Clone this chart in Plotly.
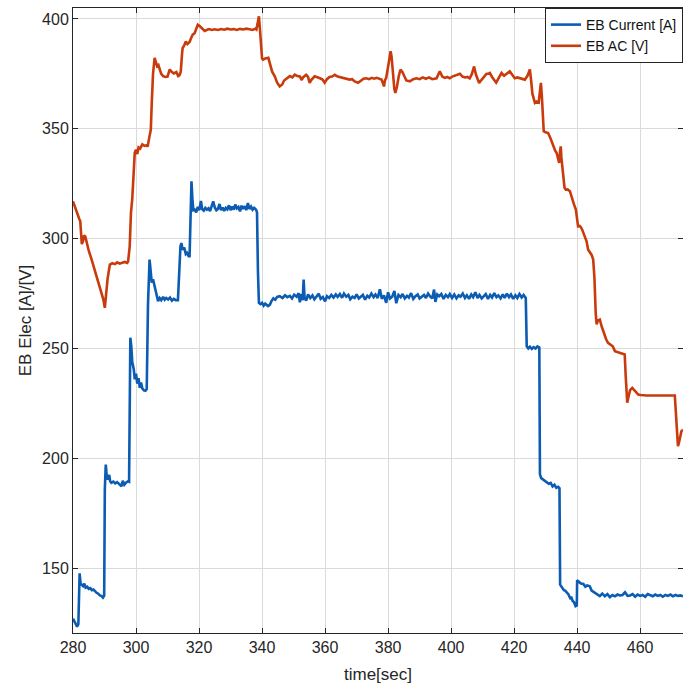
import plotly.graph_objects as go

# EB current [A]: time stamps (s) and measured values
t_cur = [
    280.0, 280.6, 281.3, 281.7, 281.9, 282.1, 282.4, 282.8, 283.2, 283.6, 284.0, 284.5, 285.0, 285.5,
    286.0, 286.5, 287.0, 287.5, 288.0, 288.5, 289.0, 289.5, 289.9, 290.1, 290.4, 290.7, 291.1, 291.5,
    291.8, 292.2, 292.8, 293.4, 294.0, 294.6, 295.2, 295.4, 295.8, 296.3, 296.9, 297.5, 297.8, 298.0,
    298.2, 298.5, 298.8, 299.3, 299.6, 300.0, 300.4, 300.8, 301.2, 301.6, 302.0, 302.5, 303.0, 303.4,
    303.8, 304.3, 304.6, 305.0, 305.4, 305.9, 306.3, 306.7, 307.0, 307.5, 308.0, 308.6, 309.1, 309.6,
    310.2, 310.8, 311.4, 312.0, 312.6, 313.3, 313.7, 314.1, 314.4, 314.8, 315.3, 315.8, 316.2, 316.7,
    317.0, 317.3, 317.6, 317.9, 318.2, 318.6, 319.1, 319.6, 320.1, 320.6, 321.0, 321.5, 322.0, 322.5,
    323.0, 323.5, 324.0, 324.5, 325.0, 325.5, 326.0, 326.5, 327.0, 327.5, 328.0, 328.5, 329.0, 329.5,
    330.0, 330.5, 331.0, 331.5, 332.0, 332.5, 333.0, 333.5, 334.0, 334.5, 335.0, 335.5, 336.0, 336.5,
    337.0, 337.5, 338.1, 338.4, 338.7, 339.0, 339.5, 340.0, 340.5, 341.0, 341.9, 342.5, 343.0, 343.6,
    344.2, 344.8, 345.6, 346.5, 347.3, 348.0, 348.8, 349.5, 350.2, 351.0, 351.6, 352.0, 352.5, 352.9,
    353.2, 353.5, 354.0, 354.6, 355.3, 356.0, 356.6, 357.3, 358.0, 358.6, 359.3, 360.0, 360.6, 361.3,
    362.0, 362.7, 363.4, 364.0, 364.7, 365.4, 366.0, 366.7, 367.4, 368.0, 368.7, 369.4, 370.0, 370.7,
    371.4, 372.0, 372.7, 373.4, 374.0, 374.7, 375.4, 376.0, 376.7, 377.4, 378.0, 378.7, 379.4, 380.0,
    380.6, 381.3, 382.0, 382.6, 383.3, 384.0, 384.6, 385.3, 386.0, 386.6, 387.3, 388.0, 388.7, 389.4,
    390.0, 390.7, 391.4, 392.0, 392.7, 393.4, 394.0, 394.6, 395.0, 395.6, 396.2, 396.9, 397.6, 398.3,
    399.0, 399.6, 400.3, 401.0, 401.7, 402.4, 403.0, 403.7, 404.4, 405.0, 405.7, 406.4, 407.0, 407.7,
    408.4, 409.0, 409.7, 410.4, 411.0, 411.7, 412.4, 413.0, 413.7, 414.4, 415.0, 415.7, 416.4, 417.0,
    417.7, 418.4, 419.0, 419.7, 420.4, 421.0, 421.7, 422.4, 423.0, 423.7, 424.0, 424.5, 425.0, 425.6,
    426.2, 426.8, 427.4, 428.0, 428.2, 428.6, 429.2, 429.8, 430.4, 431.0, 431.6, 432.2, 432.8, 433.4,
    434.0, 434.4, 434.6, 435.2, 435.8, 436.2, 436.7, 437.2, 437.8, 438.2, 438.6, 439.0, 439.5, 439.9,
    440.0, 440.5, 441.2, 442.0, 442.6, 443.2, 444.0, 444.6, 445.4, 446.2, 447.2, 448.0, 448.8, 449.6,
    450.4, 451.2, 452.0, 452.8, 453.6, 454.4, 455.2, 456.0, 456.8, 457.6, 458.4, 459.2, 460.0, 460.8,
    461.6, 462.4, 463.2, 464.0, 464.8, 465.6, 466.4, 467.2, 468.0, 468.8, 469.6, 470.4, 471.2, 472.0,
    472.8, 473.6,
]
i_cur = [
    127.0, 125.5, 123.4, 124.5, 146.0, 147.7, 143.0, 142.5, 141.9, 143.0, 141.2, 141.6, 140.6, 140.9,
    140.0, 140.3, 139.4, 138.8, 138.4, 137.6, 137.4, 136.6, 137.5, 185.9, 197.2, 192.0, 190.4, 192.5,
    189.5, 188.9, 189.4, 188.6, 189.2, 188.4, 188.0, 187.3, 189.8, 188.0, 189.0, 189.6, 189.4, 253.0,
    254.9, 251.0, 244.0, 240.5, 236.0, 238.5, 234.0, 236.5, 232.1, 234.5, 231.8, 231.0, 230.8, 231.5,
    270.0, 290.5, 286.0, 280.0, 281.5, 278.4, 276.0, 272.5, 271.5, 273.0, 272.0, 273.5, 272.2, 273.0,
    272.3, 273.2, 271.8, 272.6, 272.0, 272.0, 285.0, 296.5, 298.0, 295.0, 296.0, 293.0, 293.5, 292.0,
    292.0, 312.0, 326.1, 318.0, 313.0, 313.2, 312.0, 314.5, 313.0, 317.2, 313.5, 312.8, 314.0, 313.2,
    313.8, 312.5, 314.5, 317.0, 314.2, 312.9, 313.5, 315.8, 313.0, 314.2, 312.6, 314.0, 313.4, 315.2,
    313.0, 314.6, 313.2, 315.5, 313.8, 314.4, 312.4, 315.0, 313.6, 314.8, 313.0, 316.2, 313.5, 314.6,
    313.2, 314.0, 313.2, 312.0, 285.0, 270.8, 270.2, 270.8, 269.5, 270.4, 269.3, 270.0, 271.6, 272.8,
    272.2, 273.5, 273.8, 273.0, 274.2, 273.4, 274.0, 272.8, 274.5, 273.6, 275.2, 271.0, 274.8, 272.0,
    281.4, 273.0, 271.8, 274.6, 273.0, 274.2, 272.4, 273.8, 275.0, 272.6, 273.4, 271.5, 273.8, 273.0,
    274.4, 273.2, 274.6, 273.5, 274.8, 273.1, 275.0, 273.6, 274.4, 272.4, 273.6, 273.0, 274.6, 272.8,
    273.8, 274.4, 272.2, 274.0, 273.2, 275.0, 273.4, 274.6, 273.0, 277.0, 272.6, 274.2, 270.8, 275.6,
    272.8, 273.6, 276.2, 270.6, 274.4, 273.4, 274.8, 272.8, 274.0, 273.2, 275.2, 272.6, 273.8, 274.6,
    272.8, 273.6, 274.4, 273.0, 275.0, 273.6, 272.8, 276.8, 271.2, 274.6, 273.8, 274.8, 272.6, 274.4,
    273.4, 274.8, 273.0, 274.6, 272.8, 274.2, 273.6, 275.0, 273.0, 274.2, 272.6, 274.6, 273.4, 275.6,
    273.0, 274.4, 272.8, 273.8, 274.8, 272.6, 274.4, 273.2, 275.2, 273.4, 274.2, 272.8, 274.6, 273.0,
    275.0, 273.4, 274.6, 272.6, 274.2, 273.0, 274.8, 273.2, 274.4, 273.0, 251.0, 250.0, 250.8, 249.8,
    250.6, 250.0, 251.0, 250.5, 192.7, 191.0, 190.4, 189.6, 189.0, 188.4, 188.8, 187.2, 188.0, 186.6,
    187.0, 186.4, 142.5, 141.0, 140.0, 139.8, 139.0, 138.2, 136.4, 136.6, 135.0, 134.6, 132.7, 133.0,
    144.5, 144.0, 143.0, 142.8, 141.6, 142.2, 141.8, 139.8, 139.0, 138.0, 137.3, 138.4, 137.2, 138.2,
    136.8, 137.8, 137.2, 138.0, 137.6, 137.8, 139.0, 137.4, 137.6, 138.2, 137.0, 138.0, 137.4, 137.8,
    137.0, 138.2, 137.6, 137.2, 138.0, 137.4, 137.8, 137.0, 137.8, 137.4, 138.0, 137.2, 137.8, 137.4,
    137.6, 137.2,
]

# EB AC voltage [V]: time stamps (s) and measured values
t_ac = [
    280.0, 280.7, 281.3, 282.0, 282.3, 282.5, 282.8, 283.2, 283.5, 283.9, 284.3, 285.0, 285.8, 286.6,
    287.4, 288.2, 289.0, 289.6, 290.1, 290.5, 291.0, 291.7, 292.5, 293.3, 294.0, 294.8, 295.6, 296.4,
    297.2, 297.5, 298.0, 298.4, 298.8, 299.2, 299.6, 300.0, 300.4, 300.8, 301.3, 302.0, 302.7, 303.3,
    303.7, 304.2, 304.7, 305.0, 305.4, 305.9, 306.3, 306.7, 307.1, 307.5, 308.0, 308.6, 309.3, 310.0,
    310.7, 311.3, 312.0, 312.8, 313.4, 313.8, 314.2, 314.6, 314.8, 315.3, 315.8, 316.3, 317.0, 317.4,
    318.0, 318.6, 319.2, 319.6, 320.2, 321.0, 321.8, 322.4, 323.2, 324.0, 325.0, 326.0, 327.0, 328.0,
    329.0, 330.0, 331.0, 332.0, 333.0, 334.0, 335.0, 336.0, 337.0, 337.8, 338.2, 338.6, 339.0, 339.3,
    339.6, 340.0, 340.3, 341.0, 342.0, 342.6, 343.2, 344.0, 344.8, 345.6, 346.4, 347.0, 348.0, 348.8,
    349.6, 350.4, 351.2, 352.0, 352.6, 353.0, 354.0, 354.6, 355.1, 355.6, 356.7, 357.6, 358.4, 359.2,
    359.9, 360.6, 361.4, 362.2, 363.1, 364.0, 365.0, 366.0, 367.0, 367.8, 368.6, 369.4, 370.5, 371.4,
    372.2, 373.1, 374.0, 374.8, 375.6, 376.4, 377.2, 377.9, 378.3, 378.7, 379.0, 379.4, 380.2, 380.8,
    381.1, 381.5, 382.0, 382.3, 382.8, 383.4, 383.9, 384.5, 385.2, 385.8, 386.9, 388.0, 389.0, 390.0,
    391.0, 392.0, 393.0, 394.0, 395.4, 396.4, 397.2, 398.0, 398.8, 399.6, 400.4, 401.2, 402.0, 402.8,
    403.6, 404.4, 405.2, 405.9, 406.6, 407.3, 407.9, 408.9, 409.6, 410.4, 411.2, 412.0, 412.3, 413.0,
    413.6, 414.3, 415.0, 416.0, 416.8, 417.6, 418.6, 419.4, 420.2, 421.0, 421.8, 422.6, 423.4, 424.2,
    425.0, 425.4, 425.8, 426.6, 427.2, 427.8, 428.2, 428.5, 428.8, 429.1, 429.4, 430.0, 430.8, 431.6,
    432.4, 433.0, 433.5, 434.0, 434.3, 434.6, 434.8, 435.0, 435.2, 435.6, 436.0, 436.4, 437.0, 437.7,
    438.3, 439.0, 439.6, 440.0, 440.3, 440.8, 441.2, 441.6, 442.3, 443.0, 443.5, 444.0, 444.6, 445.1,
    445.5, 445.9, 446.2, 446.6, 447.2, 447.8, 448.5, 449.2, 449.8, 450.6, 451.3, 452.0, 452.8, 453.6,
    454.4, 455.1, 455.4, 455.7, 455.9, 456.3, 456.8, 457.5, 458.2, 458.8, 459.4, 460.2, 461.0, 462.0,
    463.5, 465.0, 466.5, 468.0, 469.5, 471.0, 471.2, 471.4, 471.7, 472.0, 472.3, 472.7, 473.1, 473.6,
]
v_ac = [
    317.0, 314.0, 311.0, 309.0, 308.0, 300.0, 297.5, 299.0, 301.5, 301.0, 298.0, 294.5, 291.0, 287.0,
    283.0, 279.5, 276.0, 272.5, 268.5, 274.0, 282.0, 288.2, 288.8, 288.4, 289.2, 288.6, 289.0, 289.4,
    289.0, 289.7, 296.5, 312.0, 318.0, 330.0, 339.2, 340.5, 338.5, 341.5, 341.0, 342.9, 342.3, 342.5,
    342.0, 346.0, 349.7, 362.0, 375.0, 382.3, 380.0, 378.5, 379.0, 377.0, 375.0, 374.0, 373.6, 373.8,
    377.0, 376.0, 375.2, 375.8, 374.0, 374.4, 376.0, 384.0, 386.8, 388.0, 389.8, 388.6, 389.5, 391.0,
    392.9, 393.5, 396.0, 397.4, 396.8, 395.6, 394.6, 395.0, 395.4, 395.0, 395.3, 395.0, 395.4, 395.1,
    395.6, 395.2, 395.4, 395.0, 395.5, 395.2, 395.6, 395.3, 395.0, 395.6, 395.2, 398.0, 401.2, 396.0,
    388.0, 382.0, 381.5, 382.0, 382.3, 379.0, 376.0, 374.0, 371.0, 369.3, 370.2, 372.0, 373.0, 374.0,
    373.4, 374.7, 374.0, 373.8, 372.2, 373.4, 374.6, 373.6, 370.9, 372.2, 373.9, 373.6, 373.0, 372.4,
    371.0, 372.6, 373.6, 373.8, 374.6, 373.8, 373.4, 373.0, 372.8, 372.4, 372.6, 371.6, 371.0, 372.2,
    372.8, 373.0, 372.6, 373.2, 372.8, 373.2, 372.6, 372.4, 371.0, 369.3, 372.0, 373.2, 380.0, 385.3,
    383.0, 376.0, 368.0, 366.3, 369.0, 374.0, 376.9, 376.0, 373.6, 372.0, 371.6, 372.6, 373.0, 372.6,
    373.4, 372.8, 373.4, 372.6, 373.0, 376.2, 373.8, 373.2, 373.6, 373.0, 373.8, 374.2, 374.6, 375.1,
    373.8, 373.4, 373.6, 373.0, 375.0, 378.4, 374.6, 370.9, 372.2, 373.6, 375.0, 375.2, 375.4, 373.6,
    372.2, 371.0, 372.8, 375.4, 374.2, 375.0, 376.2, 374.6, 373.0, 373.4, 373.0, 372.6, 372.4, 374.0,
    377.0, 372.0, 366.0, 361.8, 362.4, 362.0, 366.0, 370.9, 365.0, 355.0, 348.9, 348.4, 348.1, 345.5,
    342.2, 340.2, 339.0, 336.2, 334.5, 340.0, 342.0, 337.0, 334.5, 328.0, 323.2, 322.3, 322.4, 321.6,
    318.5, 315.6, 313.2, 309.0, 305.6, 305.8, 305.2, 304.1, 301.0, 298.8, 295.0, 294.0, 292.6, 290.5,
    282.0, 266.0, 261.0, 262.8, 263.2, 260.0, 256.8, 254.2, 252.6, 251.8, 251.0, 248.8, 248.4, 247.8,
    247.6, 247.3, 238.0, 228.0, 225.3, 228.0, 231.0, 232.1, 230.8, 229.6, 229.0, 228.8, 228.6, 228.6,
    228.6, 228.6, 228.6, 228.6, 228.6, 228.6, 224.0, 218.0, 212.0, 205.6, 207.0, 210.0, 212.4, 213.0,
]

x_ticks = [280, 300, 320, 340, 360, 380, 400, 420, 440, 460]
y_ticks = [150, 200, 250, 300, 350, 400]

BLUE = "#0b5cb2"
RED = "#c93b0c"
INK = "#262626"
GRID = "#dadada"
FONT = "Liberation Sans, Arial, sans-serif"

fig = go.Figure()
fig.add_trace(go.Scatter(x=t_cur, y=i_cur, mode="lines", name="EB Current [A]",
                         line=dict(color=BLUE, width=2.6)))
fig.add_trace(go.Scatter(x=t_ac, y=v_ac, mode="lines", name="EB AC [V]",
                         line=dict(color=RED, width=2.6)))

axis_common = dict(
    showline=True, linecolor=INK, linewidth=1, mirror="ticks",
    ticks="inside", ticklen=5, tickcolor=INK, tickwidth=1,
    showgrid=True, gridcolor=GRID, gridwidth=1, zeroline=False,
    tickfont=dict(family=FONT, size=16, color=INK),
)

fig.update_xaxes(range=[280, 473.6], tickvals=x_ticks,
                 title=dict(text="time[sec]", font=dict(family=FONT, size=17, color=INK), standoff=12),
                 **axis_common)
fig.update_yaxes(range=[120.5, 405], tickvals=y_ticks,
                 title=dict(text="EB Elec [A]/[V]", font=dict(family=FONT, size=17, color=INK), standoff=6),
                 **axis_common)

fig.update_layout(
    width=683, height=690,
    margin=dict(l=73, r=0, t=8, b=57),
    paper_bgcolor="white", plot_bgcolor="white",
    showlegend=True,
    legend=dict(x=1, y=1, xanchor="right", yanchor="top",
                bgcolor="white", bordercolor=INK, borderwidth=1,
                font=dict(family=FONT, size=14, color="#111111"),
                itemwidth=30, tracegroupgap=0),
)

fig.write_html("out.html")
